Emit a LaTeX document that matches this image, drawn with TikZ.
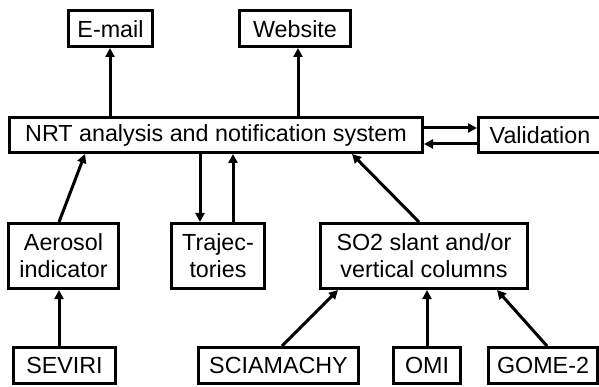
\documentclass[tikz,border=0pt]{standalone}
\usepackage{fontspec}
\setmainfont{Liberation Sans}
\usetikzlibrary{arrows.meta}
\begin{document}
\begin{tikzpicture}[x=1pt,y=-1pt,
  box/.style={draw=black,line width=3pt,inner sep=0pt,align=center,
    font=\fontsize{23.3}{27}\selectfont},
  arr/.style={line width=3pt,-{Triangle[length=9pt,width=9pt]}}]
\useasboundingbox (0,0) rectangle (599,387);
\clip (0,0) rectangle (599,387);
\node[box,minimum width=84pt,minimum height=35.5pt] (email) at (110.5,28.75) {E-mail};
\node[box,minimum width=111pt,minimum height=35.5pt] (web) at (295,28.75) {Website};
\node[box,minimum width=413pt,minimum height=35pt] (nrt) at (216,135) {NRT analysis and notification system};
\node[box,minimum width=123pt,minimum height=35pt] (val) at (540,135) {Validation};
\node[box,minimum width=110pt,minimum height=65pt] (aer) at (63.5,256) {Aerosol\\indicator};
\node[box,minimum width=93pt,minimum height=65pt] (traj) at (218,256) {Trajec-\\tories};
\node[box,minimum width=207pt,minimum height=65pt] (so2) at (424,256) {SO2 slant and/or\\vertical columns};
\node[box,minimum width=102pt,minimum height=36pt] (sev) at (64.5,365.5) {SEVIRI};
\node[box,minimum width=160pt,minimum height=36pt] (sci) at (278.5,365.5) {SCIAMACHY};
\node[box,minimum width=67pt,minimum height=36pt] (omi) at (427,365.5) {OMI};
\node[box,minimum width=109pt,minimum height=36pt] (gome) at (543,365.5) {GOME-2};
% arrows
\draw[arr] (nrt.north -| 110,0) -- (email.south -| 110,0);
\draw[arr] (nrt.north -| 298,0) -- (web.south -| 298,0);
\draw[arr] (nrt.east |- 0,128) -- (val.west |- 0,128);
\draw[arr] (val.west |- 0,144) -- (nrt.east |- 0,144);
\draw[arr] (aer.north -| 59,0) -- (nrt.south -| 85,0);
\draw[arr] (nrt.south -| 200,0) -- (traj.north -| 200,0);
\draw[arr] (traj.north -| 233,0) -- (nrt.south -| 233,0);
\draw[arr] (so2.north -| 419,0) -- (nrt.south -| 352,0);
\draw[arr] (sev.north -| 59,0) -- (aer.south -| 59,0);
\draw[arr] (sci.north -| 282,0) -- (so2.south -| 338,0);
\draw[arr] (omi.north -| 427,0) -- (so2.south -| 427,0);
\draw[arr] (gome.north -| 547,0) -- (so2.south -| 497,0);
\end{tikzpicture}
\end{document}
